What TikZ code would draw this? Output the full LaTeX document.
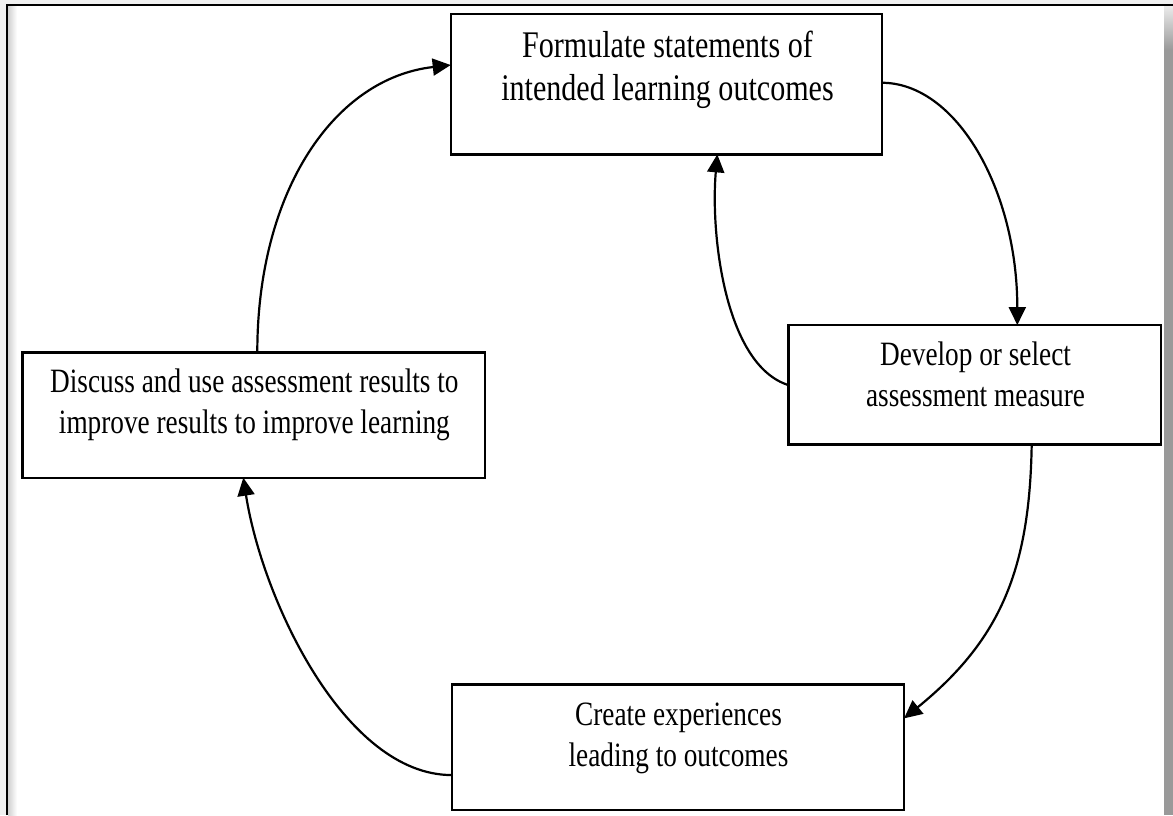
\documentclass[tikz,border=0pt]{standalone}
\usepackage{fontspec}
\setmainfont{Liberation Serif}
\newfontfamily\boxfont[FakeStretch=0.8]{Liberation Serif}
\usetikzlibrary{arrows.meta,calc}
\begin{document}
\begin{tikzpicture}[x=0.5pt,y=-0.5pt,
  box/.style={draw, line width=1.2pt, inner sep=0pt, outer sep=0pt, rectangle, fill=white},
  bigtxt/.style={font=\boxfont\fontsize{18.8}{21.5}\selectfont, align=center, inner sep=0pt},
  txt/.style={font=\boxfont\fontsize{17.05}{20.5}\selectfont, align=center, inner sep=0pt},
  conn/.style={line width=1.1pt, -{Triangle[length=9pt,width=8.5pt]}}]
\useasboundingbox (0,0) rectangle (1173,815);
% frame
\fill[white] (0,0) rectangle (1173,815);
\fill[black!6] (0,0) rectangle (1173,4);
\fill[black!6] (0,0) rectangle (6,815);
\shade[left color=black!18, right color=white] (8,6) rectangle (17,815);
\shade[top color=black!8, bottom color=black!40] (1164,6) rectangle (1173,50);
\fill[black!40] (1164,50) rectangle (1173,815);
\draw[line width=1.1pt] (7,815) -- (7,5) -- (1173,5);
% boxes
\node[box, minimum width=215.5pt, minimum height=70.15pt] (A) at (666.2,84.2) {};
\node[box, minimum width=186.2pt, minimum height=59.65pt] (B) at (974.5,384.7) {};
\node[box, minimum width=231.35pt, minimum height=62.7pt] (C) at (253.7,415) {};
\node[box, minimum width=226.15pt, minimum height=62.85pt] (D) at (677.9,747.2) {};
% texts (base = baseline of the last line)
\node[bigtxt, anchor=base] (At) at ($(A.north)+(1.3,86)$) {Formulate statements of\\intended learning outcomes};
\node[txt, anchor=base] (Bt) at ($(B.north)+(1,81.7)$) {Develop or select\\assessment measure};
\node[txt, anchor=base] (Ct) at ($(C.north)+(0.7,81)$) {Discuss and use assessment results to\\improve results to improve learning};
\node[txt, anchor=base] (Dt) at ($(D.north)+(0.6,82.4)$) {Create experiences\\leading to outcomes};
% connectors
\draw[conn] ($(A.north east)+(0,68.7)$) .. controls +(75,0) and +(0,-134.6) .. ($(B.north)+(42.8,0)$);
\draw[conn] ($(B.north west)+(0,60)$) .. controls +(-63,-20) and +(-7,81) .. ($(A.south)+(51.1,0)$);
\draw[conn] ($(B.south)+(57.2,0)$) .. controls +(-2,126) and +(96,-78) .. ($(D.north east)+(0,34)$);
\draw[conn] ($(D.north west)+(0,90.7)$) .. controls +(-107,0) and +(19,122) .. ($(C.south)+(-10.4,0)$);
\draw[conn] ($(C.north)+(3.6,0)$) .. controls +(0,-162) and +(-116,13) .. ($(A.north west)+(0,51)$);
\end{tikzpicture}
\end{document}
